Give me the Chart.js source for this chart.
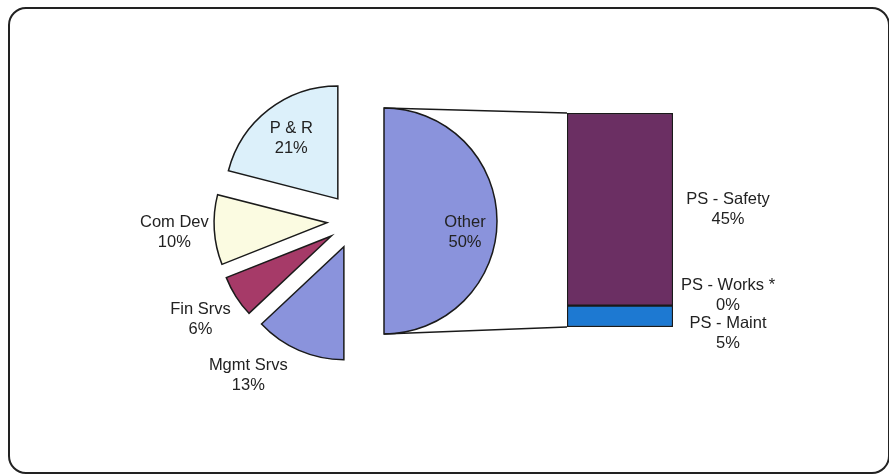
<!DOCTYPE html>
<html>
<head>
<meta charset="utf-8">
<script src="https://cdn.jsdelivr.net/npm/chart.js@4"></script>
<style>
  body { margin: 0; background: #fff; }
  #wrap { position: relative; width: 889px; height: 474px; overflow: hidden; }
  #frame { position: absolute; left: 8px; top: 7px; width: 882px; height: 467px; box-sizing: border-box; border: 2px solid #222; border-radius: 18px; }
  canvas { position: absolute; left: 0; top: 0; }
</style>
</head>
<body>
<div id="wrap">
  <div id="frame"></div>
  <canvas id="pieChart" width="889" height="474"></canvas>
  <canvas id="barChart" width="889" height="474"></canvas>
</div>
<script>
var pieLabels = ['Other', 'Mgmt Srvs', 'Fin Srvs', 'Com Dev', 'P & R'];
var pieValues = [50, 13, 6, 10, 21];
var barLabels = ['PS - Maint', 'PS - Works *', 'PS - Safety'];
var barValues = [5, 0, 45];

var pieColors = ['#8a93dc', '#8a93dc', '#a63a68', '#fbfbe1', '#dcf0fa'];
var barColors = ['#1d79d2', '#8a93dc', '#6b2f63'];

var explode = [29, 28, 28, 28, 28];   // px each slice is pulled out
// label spot: distance from the slice tip along its middle, then a nudge
var pieLabelPos = [
  {d: 81, dx: 0, dy: 11},
  {d: 145, dx: -38, dy: -4},
  {d: 155, dx: 0, dy: 0},
  {d: 153, dx: 0, dy: 0},
  {d: 76, dx: 0, dy: 0}
];
var barLabelShift = [17, -10, 0];

var FONT = '16.5px "Liberation Sans", Arial, sans-serif';

function drawLines(ctx, lines, x, y, color) {
  ctx.save();
  ctx.font = FONT;
  ctx.fillStyle = color || '#222';
  ctx.textAlign = 'center';
  ctx.textBaseline = 'middle';
  lines.forEach(function(t, i) {
    ctx.fillText(t, x, y + (i - (lines.length - 1) / 2) * 20);
  });
  ctx.restore();
}

// where the slice tip ends up after pulling it out
function tip(arc, i) {
  var mid = (arc.startAngle + arc.endAngle) / 2;
  return { x: arc.x + Math.cos(mid) * explode[i], y: arc.y + Math.sin(mid) * explode[i], mid: mid };
}

var explodePlugin = {
  id: 'explode',
  beforeDatasetDraw: function(chart, args) {
    var ctx = chart.ctx;
    args.meta.data.forEach(function(arc, i) {
      var t = tip(arc, i);
      ctx.save();
      ctx.translate(t.x - arc.x, t.y - arc.y);
      arc.draw(ctx);
      ctx.restore();
    });
    return false;
  },
  afterDatasetsDraw: function(chart) {
    var ctx = chart.ctx;
    chart.getDatasetMeta(0).data.forEach(function(arc, i) {
      var t = tip(arc, i), p = pieLabelPos[i];
      drawLines(ctx, [pieLabels[i], pieValues[i] + '%'],
        t.x + Math.cos(t.mid) * p.d + p.dx, t.y + Math.sin(t.mid) * p.d + p.dy);
    });
  }
};

var pieChart = new Chart(document.getElementById('pieChart'), {
  type: 'pie',
  data: {
    labels: pieLabels,
    datasets: [{
      data: pieValues,
      backgroundColor: pieColors,
      borderColor: '#1a1a1a',
      borderWidth: 1.5,
      borderJoinStyle: 'miter',
      radius: 113
    }]
  },
  options: {
    responsive: false,
    animation: false,
    events: [],
    layout: { padding: { left: 0, right: 179, top: 0, bottom: 32 } },
    plugins: { legend: { display: false }, tooltip: { enabled: false } }
  },
  plugins: [explodePlugin]
});

var barTotal = barValues.reduce(function(a, b) { return a + b; }, 0);

var connectorPlugin = {
  id: 'connector',
  afterDatasetsDraw: function(chart) {
    var ctx = chart.ctx;
    var other = pieChart.getDatasetMeta(0).data[0];
    var t = tip(other, 0);
    var r = other.outerRadius;
    var left = chart.chartArea.left;
    var yTop = chart.scales.y.getPixelForValue(barTotal);
    var yBot = chart.scales.y.getPixelForValue(0);

    ctx.save();
    ctx.strokeStyle = '#1a1a1a';
    ctx.lineWidth = 1.3;
    ctx.beginPath();
    ctx.moveTo(t.x, t.y - r);
    ctx.lineTo(left, yTop);
    ctx.moveTo(t.x, t.y + r);
    ctx.lineTo(left, yBot);
    ctx.stroke();
    ctx.restore();

    barLabels.forEach(function(l, i) {
      var bar = chart.getDatasetMeta(i).data[0];
      var mid = (bar.y + bar.base) / 2 + barLabelShift[i];
      drawLines(ctx, [l, barValues[i] + '%'], bar.x + bar.width / 2 + 55, mid);
    });
  }
};

var barChart = new Chart(document.getElementById('barChart'), {
  type: 'bar',
  data: {
    labels: ['PS'],
    datasets: barLabels.map(function(l, i) {
      return {
        label: l,
        data: [barValues[i]],
        backgroundColor: barColors[i],
        borderColor: '#1a1a1a',
        borderWidth: 1.5,
        borderSkipped: false,
        barPercentage: 1,
        categoryPercentage: 1
      };
    })
  },
  options: {
    responsive: false,
    animation: false,
    events: [],
    layout: { padding: { left: 567, right: 216, top: 113, bottom: 147 } },
    scales: {
      x: { stacked: true, display: false },
      y: { stacked: true, display: false, min: 0, max: barTotal }
    },
    plugins: { legend: { display: false }, tooltip: { enabled: false } }
  },
  plugins: [connectorPlugin]
});
</script>
</body>
</html>
